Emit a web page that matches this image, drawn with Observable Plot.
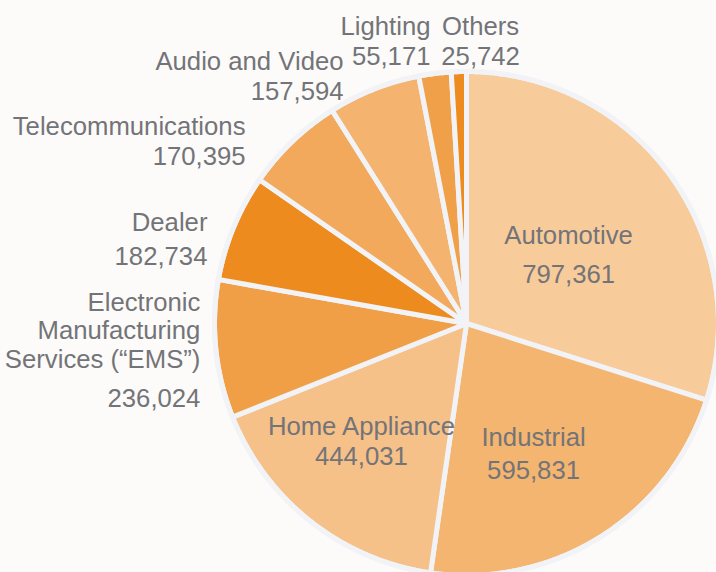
<!DOCTYPE html>
<html><head><meta charset="utf-8">
<script src="https://cdn.jsdelivr.net/npm/d3@7"></script>
<script src="https://cdn.jsdelivr.net/npm/@observablehq/plot@0.6"></script>
<style>html,body{margin:0;padding:0;background:#fcfbf9;}</style>
</head><body><div id="chart"></div>
<script>
// ---- data ----
const categories = ["Automotive","Industrial","Home Appliance","EMS","Dealer","Telecommunications","Audio and Video","Lighting","Others"];
const values = [797361,595831,444031,236024,182734,170395,157594,55171,25742];
const displayNames = ["Automotive","Industrial","Home Appliance","Electronic\nManufacturing\nServices (“EMS”)","Dealer","Telecommunications","Audio and Video","Lighting","Others"];

// ---- style ----
const palette = ["#f8cb9b","#f4b571","#f6c089","#f19f47","#ee8b1f","#f2a95c","#f4b36e","#f1a04a","#ee8b1f"];
const gapColor = "#f1f3f6";
const textColor = "#737478";

// ---- label layout (in pie-radius units, centre = 0,0) ----
const labelX      = [0.405, 0.266, -0.417, -1.056, -1.028, -0.877, -0.488, -0.143, 0.056];
const labelNameY  = [0.317, -0.488, -0.444, -0.175, 0.369, 0.750, 1.004, 1.143, 1.143];
const labelValueY = [0.159, -0.619, -0.563, -0.333, 0.234, 0.627, 0.885, 1.024, 1.024];
const labelAnchor = ["middle","middle","middle","end","end","end","end","end","middle"];

const arcs = d3.pie().sort(null).value(d => d)(values);
const slices = [];
arcs.forEach((p, i) => {
  const cat = categories[i];
  const n = Math.max(2, Math.ceil((p.endAngle - p.startAngle) / (Math.PI / 360)));
  slices.push({cat, x: 0, y: 0});
  for (let k = 0; k <= n; k++) {
    const a = p.startAngle + (p.endAngle - p.startAngle) * k / n;
    slices.push({cat, x: Math.sin(a), y: Math.cos(a)});
  }
  slices.push({cat, x: 0, y: 0});
});
const ring = d3.range(0, 721).map(k => { const a = k / 720 * 2 * Math.PI; return {x: Math.sin(a), y: Math.cos(a)}; });

const labels = categories.map((c, i) => ({
  cat: c, name: displayNames[i], value: d3.format(",")(values[i]),
  x: labelX[i], ny: labelNameY[i], vy: labelValueY[i], anchor: labelAnchor[i]
}));

const font = "'Liberation Sans', Helvetica, Arial, sans-serif";
const fs = 25.7;
const textMarks = ["middle", "end"].flatMap(anchor => {
  const d = labels.filter(l => l.anchor === anchor);
  return [
    Plot.text(d, {x: "x", y: "ny", text: "name", textAnchor: anchor, lineAnchor: "bottom", lineHeight: 28.5 / fs, fontSize: fs, fill: textColor}),
    Plot.text(d, {x: "x", y: "vy", text: "value", textAnchor: anchor, lineAnchor: "bottom", fontSize: fs, fill: textColor})
  ];
});

const chart = Plot.plot({
  width: 716, height: 572, margin: 0,
  style: {background: "#fcfbf9", fontFamily: font, overflow: "visible"},
  x: {domain: [-1, 1], range: [214, 718], axis: null},
  y: {domain: [-1, 1], range: [575, 71], axis: null},
  color: {domain: categories, range: palette},
  marks: [
    Plot.line(slices, {x: "x", y: "y", z: "cat", fill: "cat", stroke: gapColor, strokeWidth: 5, strokeLinejoin: "round"}),
    Plot.line(ring, {x: "x", y: "y", stroke: gapColor, strokeWidth: 5}),
    ...textMarks
  ]
});
document.getElementById("chart").appendChild(chart);
</script>
</body></html>
